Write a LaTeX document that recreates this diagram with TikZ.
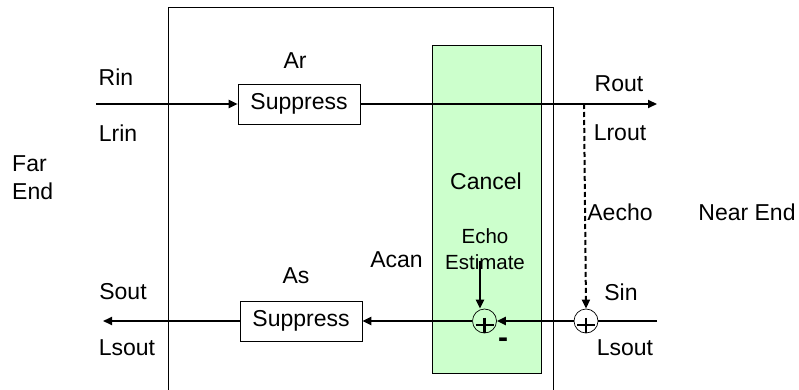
\documentclass[tikz,border=0pt]{standalone}
\usepackage{fontspec}
\setmainfont{Liberation Sans}
\usetikzlibrary{arrows.meta,positioning}

\begin{document}
\begin{tikzpicture}[x=1pt,y=-1pt, font=\fontsize{23}{28}\selectfont,
  lbl/.style={inner sep=0pt},
  blk/.style={draw,line width=0.6pt,minimum width=122pt,minimum height=40pt,inner sep=0pt},
  sum/.style={circle,draw,line width=0.7pt,minimum size=24pt,inner sep=0pt,
    path picture={\draw[line width=2.6pt] ([shift={(-9pt,-4pt)}]path picture bounding box.center) -- ++(18pt,0pt)
      ([shift={(0pt,3.5pt)}]path picture bounding box.center) -- ++(0pt,-15pt);}},
  sig/.style={line width=2pt},
  >={Triangle[length=9pt,width=8pt]}]
\useasboundingbox (0,0) rectangle (799,390);
% device box and canceller
\draw[line width=0.6pt] (168,390) -- (168,7) -- (553,7) -- (553,390);
\node (canc) [draw,line width=0.6pt,fill={rgb,255:red,204;green,255;blue,204},minimum width=109pt,minimum height=328pt] at (486.5,209) {};
% blocks
\node (supT) [blk] at (299,104) {Suppress};
\node (supB) [blk] at (301,321) {Suppress};
\node (sumL) [sum] at (484.5,321) {};
\node (sumR) [sum] at (586,321) {};
\coordinate (rin) at (96,104); \coordinate (rout) at (657,104); \coordinate (tap) at (584,104);
\coordinate (sin) at (657,321); \coordinate (sout) at (103,321);
% labels
\node (lrin) [lbl] at (116,77) {Rin}; \node [lbl] at (118,133) {Lrin}; \node [lbl] at (295,61) {Ar};
\node [lbl] at (619,84) {Rout}; \node [lbl] at (620,133) {Lrout};
\node (far) [lbl,anchor=west,align=left] at (12,178) {Far\\End};
\node (canl) [lbl] at (486,181) {Cancel};
\node (est) [lbl,align=center,font=\fontsize{20.5}{26}\selectfont] at (485,249.5) {Echo\\Estimate};
\node [lbl] at (396.5,260) {Acan}; \node [lbl] at (296,276) {As};
\node [lbl] at (620,212) {Aecho}; \node (near) [lbl] at (747,212) {Near End};
\node [lbl] at (621,292) {Sin}; \node [lbl] at (625,348) {Lsout};
\node [lbl] at (123,292) {Sout}; \node [lbl] at (127,348) {Lsout};
\node [lbl,font=\fontsize{30}{30}\selectfont\bfseries] at (503,343) {-};
% signal paths
\draw[sig,->] (rin) -- (supT.west); \draw[sig,->] (supT.east) -- (rout);
\draw[sig,dashed,dash pattern=on 5pt off 3pt,->] (tap) -- (sumR.north);
\draw[sig] (sin) -- (sumR.east); \draw[sig,->] (sumR.west) -- (sumL.east);
\draw[sig,->] (sumL.west) -- (supB.east); \draw[sig,->] (supB.west) -- (sout);
\draw[sig,->] ([xshift=-5pt,yshift=9pt]est.south) -- ([xshift=-4.5pt]sumL.north);
\end{tikzpicture}
\end{document}
